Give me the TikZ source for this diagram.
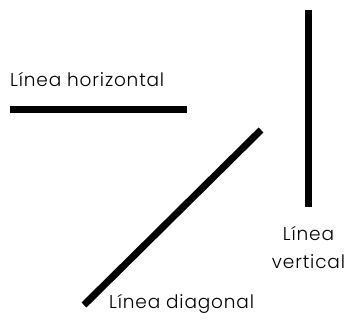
\documentclass[tikz,border=0pt]{standalone}
\usepackage{fontspec}
\setmainfont[LetterSpace=4.5]{Poppins Light}
\usetikzlibrary{positioning}

\begin{document}
\begin{tikzpicture}[x=1pt, y=-1pt, every node/.style={font=\fontsize{18.5}{22}\selectfont, inner sep=0pt}]
\useasboundingbox (0,0) rectangle (347,322);
\tikzset{thickline/.style={line width=7pt, line cap=butt}}
% lines
\coordinate (h1) at (10,109.5);
\coordinate (h2) at (187,109.5);
\coordinate (v1) at (308.5,10);
\coordinate (v2) at (308.5,207);
\coordinate (d1) at (84,305);
\coordinate (d2) at (261,130);
\draw[thickline] (h1)--(h2);
\draw[thickline] (v1)--(v2);
\draw[thickline] (d1)--(d2);
% labels
\node[anchor=base west] (lh) at (10,86) {Línea horizontal};
\node[anchor=base] (lv1) at (308.5,240) {Línea};
\node[anchor=base] (lv2) at (308.5,268) {vertical};
\node[anchor=base west] (ld) at (109,308) {Línea diagonal};
\end{tikzpicture}
\end{document}
